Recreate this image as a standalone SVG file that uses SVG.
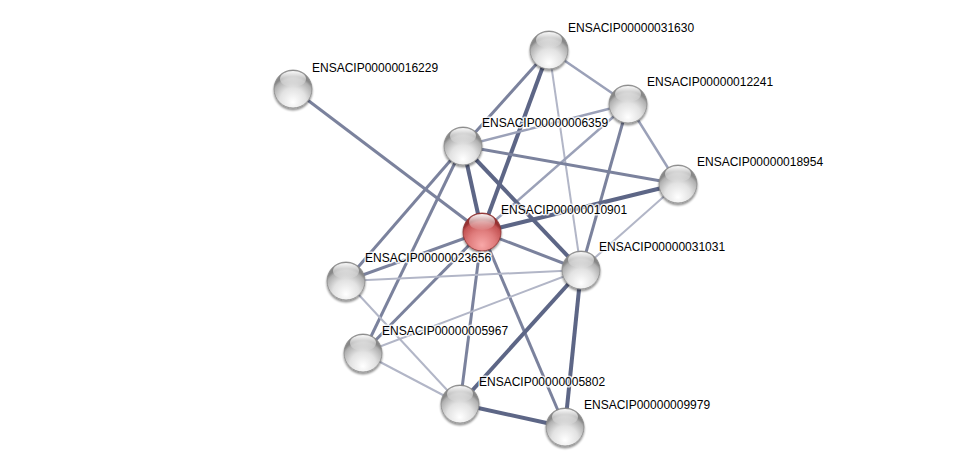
<svg xmlns="http://www.w3.org/2000/svg" width="975" height="472" viewBox="0 0 975 472">
<defs>
<radialGradient id="gGray" cx="50%" cy="78%" r="62%" fx="50%" fy="85%">
<stop offset="0" stop-color="#ffffff"/>
<stop offset="0.55" stop-color="#e2e2e2"/>
<stop offset="0.9" stop-color="#b0b0b0"/>
<stop offset="1" stop-color="#888888"/>
</radialGradient>
<radialGradient id="gRed" cx="50%" cy="78%" r="62%" fx="50%" fy="85%">
<stop offset="0" stop-color="#f8a8a8"/>
<stop offset="0.55" stop-color="#e07d7d"/>
<stop offset="0.9" stop-color="#c45454"/>
<stop offset="1" stop-color="#963232"/>
</radialGradient>
<linearGradient id="gHi" x1="0" y1="0" x2="0" y2="1">
<stop offset="0" stop-color="#ffffff" stop-opacity="0.95"/>
<stop offset="1" stop-color="#ffffff" stop-opacity="0.05"/>
</linearGradient>
<filter id="sh" x="-30%" y="-30%" width="160%" height="170%">
<feGaussianBlur in="SourceAlpha" stdDeviation="1.2"/>
<feOffset dx="0" dy="1.5" result="b"/>
<feComponentTransfer><feFuncA type="linear" slope="0.45"/></feComponentTransfer>
<feMerge><feMergeNode/><feMergeNode in="SourceGraphic"/></feMerge>
</filter>
</defs>
<style>
.e{fill:none;stroke-linecap:butt}
.t{stroke:#5d6686;stroke-width:4}
.m{stroke:#7b829d;stroke-width:3}
.lm{stroke:#9ba1b8;stroke-width:2.5}
.l{stroke:#b2b6c7;stroke-width:2}
.ball{fill:url(#gGray);stroke:#8a8a8a;stroke-width:0.8;filter:url(#sh)}
.red{fill:url(#gRed);stroke:#8a3030;stroke-width:0.8;filter:url(#sh)}
.hi{fill:url(#gHi)}
.lab{font-family:"Liberation Sans",Arial,sans-serif;font-size:12px;fill:#000;stroke:#ffffff;stroke-opacity:0.8;stroke-width:3;stroke-linejoin:round;paint-order:stroke}
</style>
<rect width="975" height="472" fill="#ffffff"/>
<g id="edges">
<line class="e m" x1="293" y1="89" x2="482" y2="232"/>
<line class="e t" x1="549" y1="50" x2="482" y2="232"/>
<line class="e m" x1="549" y1="50" x2="463" y2="146"/>
<line class="e lm" x1="549" y1="50" x2="628" y2="104"/>
<line class="e l" x1="549" y1="50" x2="581" y2="270"/>
<line class="e lm" x1="628" y1="104" x2="463" y2="146"/>
<line class="e lm" x1="628" y1="104" x2="678" y2="184"/>
<line class="e m" x1="628" y1="104" x2="581" y2="270"/>
<line class="e lm" x1="628" y1="104" x2="482" y2="232"/>
<line class="e m" x1="463" y1="146" x2="678" y2="184"/>
<line class="e t" x1="463" y1="146" x2="482" y2="232"/>
<line class="e t" x1="463" y1="146" x2="581" y2="270"/>
<line class="e m" x1="463" y1="146" x2="346" y2="281"/>
<line class="e m" x1="463" y1="146" x2="363" y2="353"/>
<line class="e t" x1="678" y1="184" x2="482" y2="232"/>
<line class="e l" x1="678" y1="184" x2="581" y2="270"/>
<line class="e m" x1="482" y1="232" x2="581" y2="270"/>
<line class="e m" x1="482" y1="232" x2="346" y2="281"/>
<line class="e m" x1="482" y1="232" x2="363" y2="353"/>
<line class="e m" x1="482" y1="232" x2="460" y2="404"/>
<line class="e m" x1="482" y1="232" x2="565" y2="427"/>
<line class="e l" x1="346" y1="281" x2="581" y2="270"/>
<line class="e l" x1="363" y1="353" x2="581" y2="270"/>
<line class="e l" x1="346" y1="281" x2="460" y2="404"/>
<line class="e l" x1="363" y1="353" x2="460" y2="404"/>
<line class="e t" x1="581" y1="270" x2="460" y2="404"/>
<line class="e t" x1="581" y1="270" x2="565" y2="427"/>
<line class="e t" x1="460" y1="404" x2="565" y2="427"/>
</g>
<g id="n16229"><circle class="ball" cx="293" cy="89" r="19"/><ellipse class="hi" cx="293" cy="79" rx="13" ry="8"/><text class="lab" x="312" y="72">ENSACIP00000016229</text></g>
<g id="n31630"><circle class="ball" cx="549" cy="50" r="19"/><ellipse class="hi" cx="549" cy="40" rx="13" ry="8"/><text class="lab" x="568" y="32">ENSACIP00000031630</text></g>
<g id="n12241"><circle class="ball" cx="628" cy="104" r="19"/><ellipse class="hi" cx="628" cy="94" rx="13" ry="8"/><text class="lab" x="647" y="86">ENSACIP00000012241</text></g>
<g id="n6359"><circle class="ball" cx="463" cy="146" r="19"/><ellipse class="hi" cx="463" cy="136" rx="13" ry="8"/><text class="lab" x="482" y="127">ENSACIP00000006359</text></g>
<g id="n18954"><circle class="ball" cx="678" cy="184" r="19"/><ellipse class="hi" cx="678" cy="174" rx="13" ry="8"/><text class="lab" x="697" y="166">ENSACIP00000018954</text></g>
<g id="n10901"><circle class="red" cx="482" cy="232" r="19"/><ellipse class="hi" cx="482" cy="222" rx="13" ry="8"/><text class="lab" x="501" y="214">ENSACIP00000010901</text></g>
<g id="n31031"><circle class="ball" cx="581" cy="270" r="19"/><ellipse class="hi" cx="581" cy="260" rx="13" ry="8"/><text class="lab" x="599" y="251">ENSACIP00000031031</text></g>
<g id="n23656"><circle class="ball" cx="346" cy="281" r="19"/><ellipse class="hi" cx="346" cy="271" rx="13" ry="8"/><text class="lab" x="365" y="262">ENSACIP00000023656</text></g>
<g id="n5967"><circle class="ball" cx="363" cy="353" r="19"/><ellipse class="hi" cx="363" cy="343" rx="13" ry="8"/><text class="lab" x="382" y="335">ENSACIP00000005967</text></g>
<g id="n5802"><circle class="ball" cx="460" cy="404" r="19"/><ellipse class="hi" cx="460" cy="394" rx="13" ry="8"/><text class="lab" x="479" y="386">ENSACIP00000005802</text></g>
<g id="n9979"><circle class="ball" cx="565" cy="427" r="19"/><ellipse class="hi" cx="565" cy="417" rx="13" ry="8"/><text class="lab" x="584" y="409">ENSACIP00000009979</text></g>
</svg>
